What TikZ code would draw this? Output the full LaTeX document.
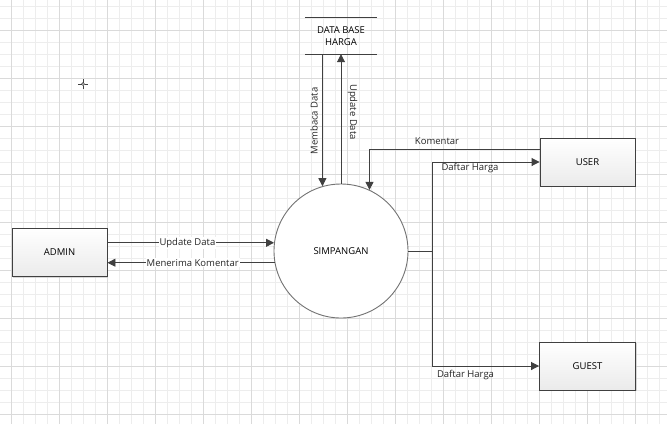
\documentclass[tikz,border=0pt]{standalone}
\usepackage{fontspec}
\setmainfont{Open Sans}
\usetikzlibrary{arrows.meta,calc,shadows}
\definecolor{minorgrid}{HTML}{EDEDED}
\definecolor{majorgrid}{HTML}{DADADA}
\definecolor{ink}{HTML}{404040}
\tikzset{
  ebox/.style={draw=ink, line width=0.9pt, top color=white, bottom color=black!8,
    minimum width=95pt, minimum height=48pt, inner sep=0pt,
    drop shadow={shadow xshift=1.2pt, shadow yshift=-1.2pt, fill=black!25, opacity=0.6},
    font=\fontsize{9.5}{11}\selectfont},
  procnode/.style={circle, draw=black!55, line width=0.9pt, fill=white, minimum size=134pt, inner sep=0pt,
    font=\fontsize{9.5}{11}\selectfont},
  storenode/.style={minimum width=72pt, minimum height=36pt, inner sep=0pt, align=center,
    font=\fontsize{9.5}{12}\selectfont},
  flow/.style={draw=ink, line width=0.9pt, -{Triangle[length=8pt,width=8pt]}},
  plain/.style={draw=ink, line width=0.9pt},
  lbl/.style={font=\fontsize{9.5}{11}\selectfont, inner sep=1pt, text=black!85},
}
\begin{document}
\begin{tikzpicture}[x=1pt,y=-1pt]
\useasboundingbox (0,0) rectangle (667,424);
\fill[white] (0,0) rectangle (667,424);
% grid
\foreach \k in {0,...,54} {\draw[minorgrid, line width=0.8pt] ({11.7+12*\k},0) -- ({11.7+12*\k},424);}
\foreach \k in {0,...,34} {\draw[minorgrid, line width=0.8pt] (0,{6.3+12*\k}) -- (667,{6.3+12*\k});}
\foreach \k in {0,...,13} {\draw[majorgrid, line width=0.8pt] ({11.7+48*\k},0) -- ({11.7+48*\k},424);}
\foreach \k in {0,...,8} {\draw[majorgrid, line width=0.8pt] (0,{30.3+48*\k}) -- (667,{30.3+48*\k});}
% cursor mark
\draw[ink, line width=0.9pt] (78,84) -- (81.5,84) (84.5,84) -- (88,84) (83,79) -- (83,82.5) (83,85.5) -- (83,89);
\draw[ink, line width=0.7pt] (83,84) circle (1.5);

% nodes
\node[storenode] (db) at (341,36) {DATA BASE\\HARGA};
\draw[plain] (db.north west) -- (db.north east);
\draw[plain] (db.south west) -- (db.south east);

\node[procnode] (simp) at (341,251) {SIMPANGAN};
\node[ebox] (admin) at (59.5,252.3) {ADMIN};
\node[ebox] (user) at (587.5,162) {USER};
\node[ebox, minimum width=96pt] (guest) at (587.5,366) {GUEST};

% data store flows
\draw[flow] (db.south -| simp.106.5) -- (simp.106.5);
\draw[flow] (simp.north) -- (db.south);
\node[lbl, rotate=90] (lmem) at (314,121) {Membaca Data};
\node[lbl, rotate=-90] (lupd) at (352.5,112) {Update Data};

% admin flows
\draw[flow] (admin.east |- simp.173.1) -- node[lbl, fill=white, pos=0.48] (lupd2) {Update Data} (simp.173.1);
\draw[flow] (simp.190.6) -- node[lbl, fill=white, pos=0.49] (lmen) {Menerima Komentar} (admin.east |- simp.190.6);

% user / guest flows
\coordinate (ku) at ($(user.west)+(0,-13)$);
\draw[flow] (ku) -| (simp.65.3);
\node[lbl] (lkom) at (437,141) {Komentar};
\coordinate (j) at ($(simp.east)+(24,0)$);
\draw[plain] (simp.east) -- (j);
\draw[flow] (j) |- (user.west);
\draw[flow] (j) |- (guest.west);
\node[lbl] (ldh1) at (470,168) {Daftar Harga};
\node[lbl] (ldh2) at (465.5,375) {Daftar Harga};
\end{tikzpicture}
\end{document}
